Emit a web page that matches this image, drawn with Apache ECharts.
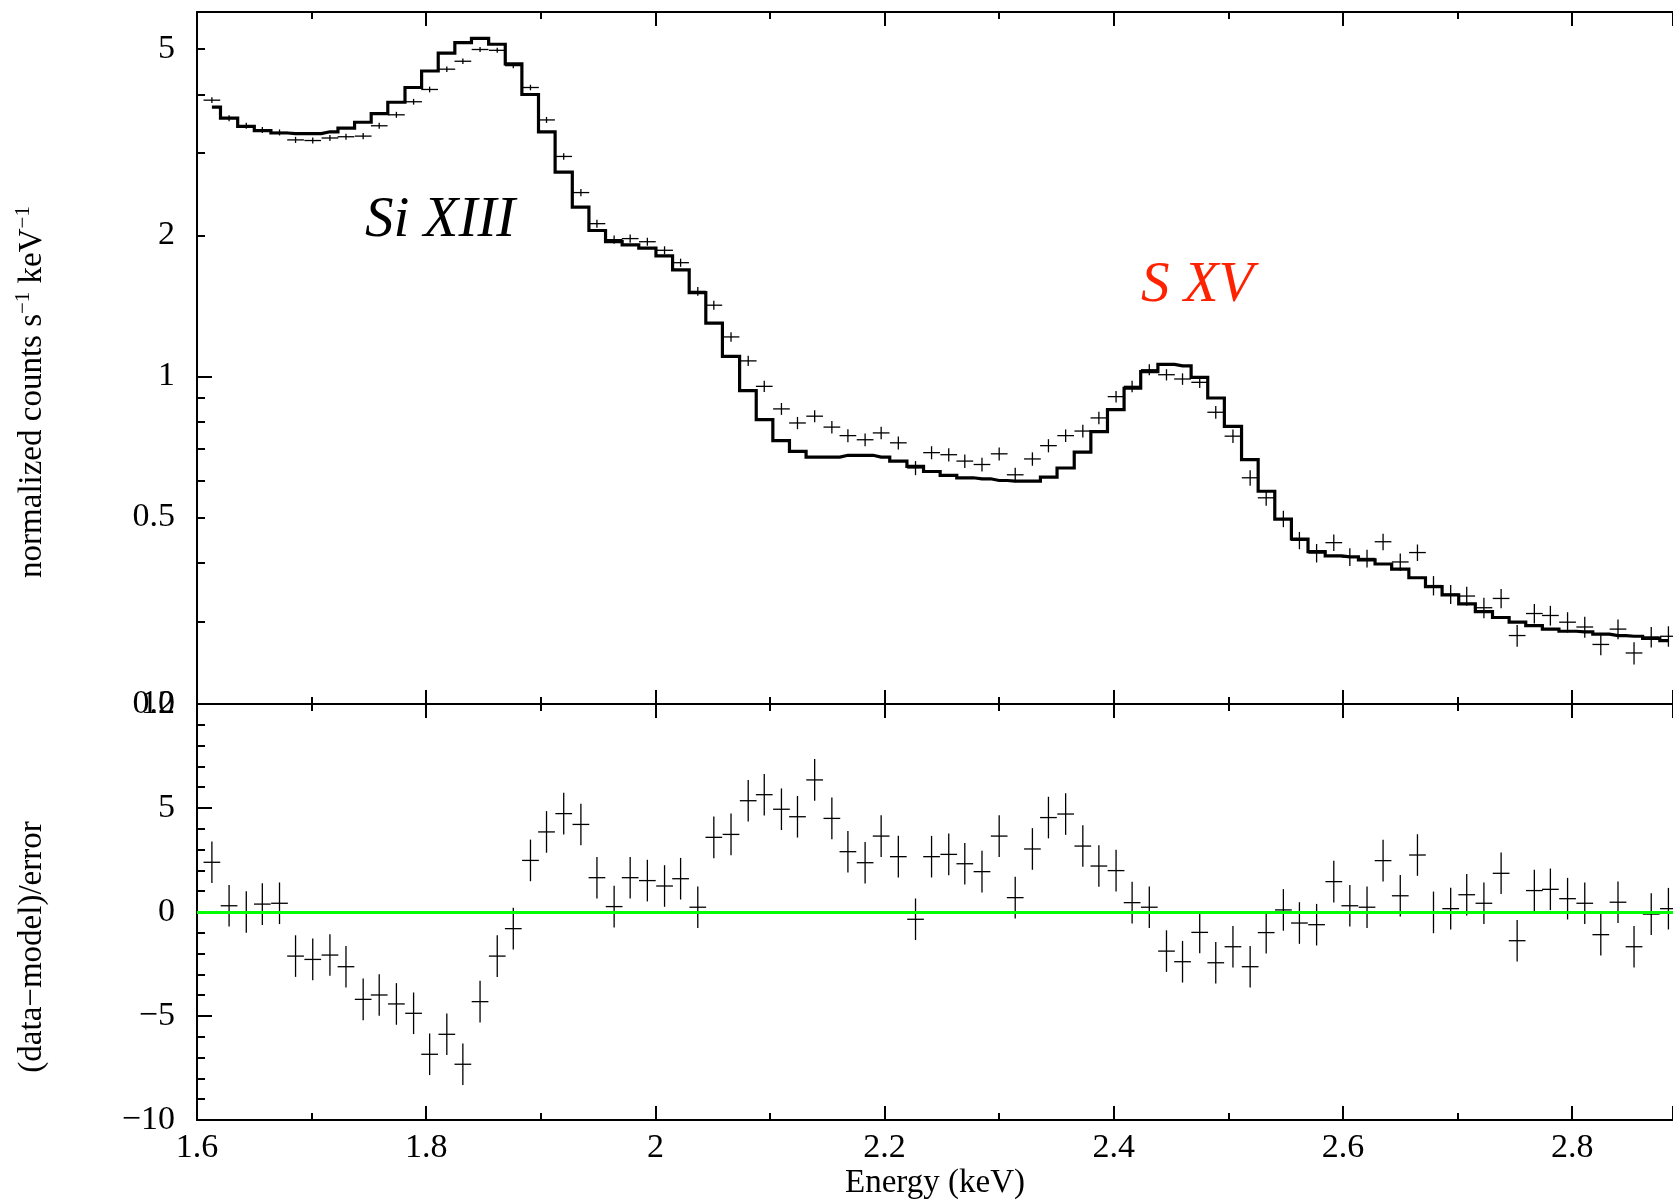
<!DOCTYPE html>
<html>
<head>
<meta charset="utf-8">
<title>Si XIII / S XV spectrum</title>
<script src="https://cdn.jsdelivr.net/npm/echarts@6/dist/echarts.min.js"></script>
<style>
html, body { margin: 0; padding: 0; background: #fff; }
#main { width: 1673px; height: 1200px; }
</style>
</head>
<body>
<div id="main"></div>
<script>
// bin centres (keV)
var energy = [1.613, 1.628, 1.643, 1.657, 1.672, 1.686, 1.701, 1.716, 1.730, 1.745,
    1.759, 1.774, 1.789, 1.803, 1.818, 1.832, 1.847, 1.862, 1.876, 1.891,
    1.905, 1.920, 1.935, 1.949, 1.964, 1.978, 1.993, 2.008, 2.022, 2.037,
    2.051, 2.066, 2.081, 2.095, 2.110, 2.124, 2.139, 2.154, 2.168, 2.183,
    2.197, 2.212, 2.227, 2.241, 2.256, 2.270, 2.285, 2.300, 2.314, 2.329,
    2.343, 2.358, 2.373, 2.387, 2.402, 2.416, 2.431, 2.446, 2.460, 2.475,
    2.489, 2.504, 2.519, 2.533, 2.548, 2.562, 2.577, 2.592, 2.606, 2.621,
    2.635, 2.650, 2.665, 2.679, 2.694, 2.708, 2.723, 2.738, 2.752, 2.767,
    2.781, 2.796, 2.811, 2.825, 2.840, 2.854, 2.869, 2.884];
// normalized counts s^-1 keV^-1
var counts = [3.89, 3.56, 3.43, 3.36, 3.32, 3.20, 3.19, 3.23, 3.25, 3.26,
    3.43, 3.62, 3.86, 4.10, 4.53, 4.71, 4.99, 4.97, 4.61, 4.14,
    3.53, 2.95, 2.47, 2.12, 1.96, 1.97, 1.94, 1.86, 1.75, 1.52,
    1.42, 1.215, 1.08, 0.953, 0.853, 0.796, 0.823, 0.780, 0.748, 0.733,
    0.758, 0.722, 0.638, 0.688, 0.681, 0.660, 0.649, 0.684, 0.617, 0.667,
    0.712, 0.748, 0.765, 0.816, 0.906, 0.953, 1.034, 1.009, 0.988, 0.972,
    0.839, 0.746, 0.608, 0.551, 0.497, 0.447, 0.420, 0.442, 0.412, 0.409,
    0.444, 0.402, 0.421, 0.358, 0.343, 0.340, 0.321, 0.336, 0.280, 0.312,
    0.309, 0.299, 0.292, 0.268, 0.289, 0.257, 0.278, 0.279];
var countsErr = [0.055, 0.052, 0.050, 0.050, 0.049, 0.048, 0.048, 0.048, 0.049, 0.050,
    0.051, 0.053, 0.055, 0.058, 0.060, 0.062, 0.063, 0.062, 0.060, 0.056,
    0.052, 0.048, 0.044, 0.041, 0.039, 0.039, 0.038, 0.037, 0.035, 0.033,
    0.031, 0.029, 0.027, 0.026, 0.025, 0.024, 0.024, 0.024, 0.024, 0.023,
    0.023, 0.023, 0.022, 0.022, 0.022, 0.022, 0.022, 0.022, 0.022, 0.022,
    0.023, 0.023, 0.024, 0.025, 0.026, 0.027, 0.028, 0.028, 0.028, 0.027,
    0.026, 0.025, 0.023, 0.021, 0.020, 0.019, 0.019, 0.018, 0.018, 0.018,
    0.018, 0.017, 0.017, 0.017, 0.016, 0.016, 0.016, 0.016, 0.015, 0.015,
    0.015, 0.015, 0.015, 0.014, 0.014, 0.014, 0.014, 0.014];
var model = [3.76, 3.56, 3.42, 3.35, 3.31, 3.30, 3.30, 3.33, 3.39, 3.49,
    3.64, 3.85, 4.14, 4.49, 4.90, 5.16, 5.27, 5.12, 4.65, 4.00,
    3.33, 2.73, 2.30, 2.05, 1.94, 1.91, 1.88, 1.81, 1.69, 1.51,
    1.30, 1.104, 0.933, 0.809, 0.730, 0.692, 0.673, 0.673, 0.679, 0.679,
    0.673, 0.660, 0.643, 0.627, 0.615, 0.608, 0.605, 0.600, 0.598, 0.598,
    0.610, 0.638, 0.690, 0.763, 0.850, 0.944, 1.024, 1.062, 1.054, 0.996,
    0.900, 0.783, 0.665, 0.569, 0.496, 0.450, 0.423, 0.414, 0.412, 0.406,
    0.398, 0.388, 0.372, 0.356, 0.342, 0.327, 0.315, 0.306, 0.299, 0.294,
    0.289, 0.286, 0.285, 0.282, 0.280, 0.279, 0.276, 0.273];
// (data-model)/error
var residual = [2.39, 0.30, 0.00, 0.38, 0.42, -2.12, -2.28, -2.07, -2.63, -4.20,
    -3.99, -4.42, -4.87, -6.84, -5.88, -7.32, -4.31, -2.12, -0.80, 2.48,
    3.85, 4.73, 4.21, 1.65, 0.26, 1.65, 1.51, 1.25, 1.60, 0.23,
    3.59, 3.73, 5.35, 5.64, 4.94, 4.58, 6.35, 4.50, 2.90, 2.37,
    3.65, 2.66, -0.35, 2.66, 2.77, 2.32, 1.94, 3.65, 0.69, 3.03,
    4.54, 4.71, 3.17, 2.21, 1.99, 0.45, 0.23, -1.88, -2.39, -0.98,
    -2.44, -1.67, -2.63, -0.99, 0.10, -0.53, -0.61, 1.46, 0.30, 0.23,
    2.47, 0.78, 2.74, -0.02, 0.16, 0.83, 0.42, 1.86, -1.38, 1.03,
    1.09, 0.64, 0.42, -1.09, 0.47, -1.67, -0.10, 0.16];
var binHalf = 0.0073;
var residualSigma = 1;

var topLabels = [0.2, 0.5, 1, 2, 5];
var topMajorTicks = [1];
var topMinorTicks = [0.3, 0.4, 0.5, 0.6, 0.7, 0.8, 0.9, 2, 3, 4, 5];

var serif = 'Liberation Serif';
var black = { color: '#000', width: 2 };

function crossItem(params, api) {
    var x = api.value(0), y = api.value(1), e = api.value(2);
    var a = api.coord([x - binHalf, y]);
    var b = api.coord([x + binHalf, y]);
    var c = api.coord([x, y - e]);
    var d = api.coord([x, y + e]);
    var st = { stroke: '#000', lineWidth: 1.3 };
    return {
        type: 'group',
        children: [
            { type: 'line', shape: { x1: a[0], y1: a[1], x2: b[0], y2: b[1] }, style: st },
            { type: 'line', shape: { x1: c[0], y1: c[1], x2: d[0], y2: d[1] }, style: st }
        ]
    };
}

function energyAxis(grid, pos, labels) {
    return {
        type: 'value', gridIndex: grid, position: pos,
        min: 1.6, max: 2.888, interval: 0.2,
        axisLine: { show: true, onZero: false, lineStyle: black },
        axisTick: { show: true, inside: true, length: 14, lineStyle: black },
        minorTick: { show: true, splitNumber: 2, length: 7, lineStyle: black },
        splitLine: { show: false },
        minorSplitLine: { show: false },
        axisLabel: {
            show: labels, showMaxLabel: false, showMinLabel: true,
            margin: 11, color: '#000', fontFamily: serif, fontSize: 34
        }
    };
}

var myChart = echarts.init(document.getElementById('main'));

var xAxes = [
    energyAxis(0, 'bottom', false),
    energyAxis(0, 'top', false),
    energyAxis(1, 'top', false),
    energyAxis(1, 'bottom', true)
];
xAxes[3].name = 'Energy (keV)';
xAxes[3].nameLocation = 'middle';
xAxes[3].nameGap = 47;
xAxes[3].nameTextStyle = { color: '#000', fontFamily: serif, fontSize: 33 };

option = {
    animation: false,
    backgroundColor: '#fff',
    textStyle: { fontFamily: serif },
    grid: [
        { left: 197, top: 12, right: 0, height: 692, outerBoundsMode: 'none' },
        { left: 197, top: 704, right: 0, height: 416, outerBoundsMode: 'none' }
    ],
    xAxis: xAxes,
    yAxis: [
        {
            type: 'log', logBase: 10, gridIndex: 0, position: 'left',
            min: 0.2, max: 6,
            axisLine: { show: true, onZero: false, lineStyle: black },
            axisTick: { show: true, inside: true, length: 15, customValues: topMajorTicks, lineStyle: black },
            axisLabel: {
                customValues: topLabels, margin: 22, color: '#000', fontFamily: serif, fontSize: 34,
                formatter: function (v) { return String(v); }
            },
            splitLine: { show: false }
        },
        {
            type: 'log', logBase: 10, gridIndex: 0, position: 'left',
            min: 0.2, max: 6,
            axisLine: { show: false },
            axisTick: { show: true, inside: true, length: 8, customValues: topMinorTicks, lineStyle: black },
            axisLabel: { show: false },
            splitLine: { show: false }
        },
        {
            type: 'value', gridIndex: 1, position: 'left',
            min: -10, max: 10, interval: 5,
            axisLine: { show: true, onZero: false, lineStyle: black },
            axisTick: { show: true, inside: true, length: 15, lineStyle: black },
            minorTick: { show: true, splitNumber: 5, length: 8, lineStyle: black },
            splitLine: { show: false },
            minorSplitLine: { show: false },
            axisLabel: {
                margin: 22, color: '#000', fontFamily: serif, fontSize: 34,
                formatter: function (v) { return v < 0 ? '\u2212' + (-v) : String(v); }
            }
        }
    ],
    graphic: [
        {
            type: 'text', x: 365, y: 221,
            style: { text: 'Si XIII', fill: '#000', font: 'italic 57px "Liberation Serif"', align: 'left', verticalAlign: 'middle' }
        },
        {
            type: 'text', x: 1141, y: 286,
            style: { text: 'S XV', fill: '#ff2200', font: 'italic 57px "Liberation Serif"', align: 'left', verticalAlign: 'middle' }
        },
        {
            type: 'text', x: 32, y: 392, rotation: Math.PI / 2,
            style: {
                text: '{a|normalized counts s}{b|\u22121}{a| keV}{b|\u22121}',
                align: 'center', verticalAlign: 'middle',
                rich: {
                    a: { fontFamily: serif, fontSize: 33, lineHeight: 38, fill: '#000' },
                    b: { fontFamily: serif, fontSize: 21, lineHeight: 38, verticalAlign: 'top', fill: '#000' }
                }
            }
        },
        {
            type: 'text', x: 32, y: 947, rotation: Math.PI / 2,
            style: { text: '(data\u2212model)/error', fill: '#000', font: '33px "Liberation Serif"', align: 'center', verticalAlign: 'middle' }
        }
    ],
    series: [
        {
            name: 'model', type: 'line', xAxisIndex: 0, yAxisIndex: 0,
            step: 'middle', showSymbol: false, symbol: 'none', clip: true,
            lineStyle: { color: '#000', width: 3.2, join: 'miter' },
            data: energy.map(function (e, i) { return [e, model[i]]; }),
            z: 3
        },
        {
            name: 'data', type: 'custom', xAxisIndex: 0, yAxisIndex: 0, clip: true,
            renderItem: crossItem,
            data: energy.map(function (e, i) { return [e, counts[i], countsErr[i]]; }),
            z: 4
        },
        {
            name: 'residual', type: 'custom', xAxisIndex: 3, yAxisIndex: 2, clip: true,
            renderItem: crossItem,
            data: energy.map(function (e, i) { return [e, residual[i], residualSigma]; }),
            markLine: {
                silent: true, symbol: 'none', label: { show: false },
                lineStyle: { color: '#00ff00', width: 3, type: 'solid' },
                data: [{ yAxis: 0 }]
            },
            z: 4
        }
    ]
};
myChart.setOption(option);
</script>
</body>
</html>
